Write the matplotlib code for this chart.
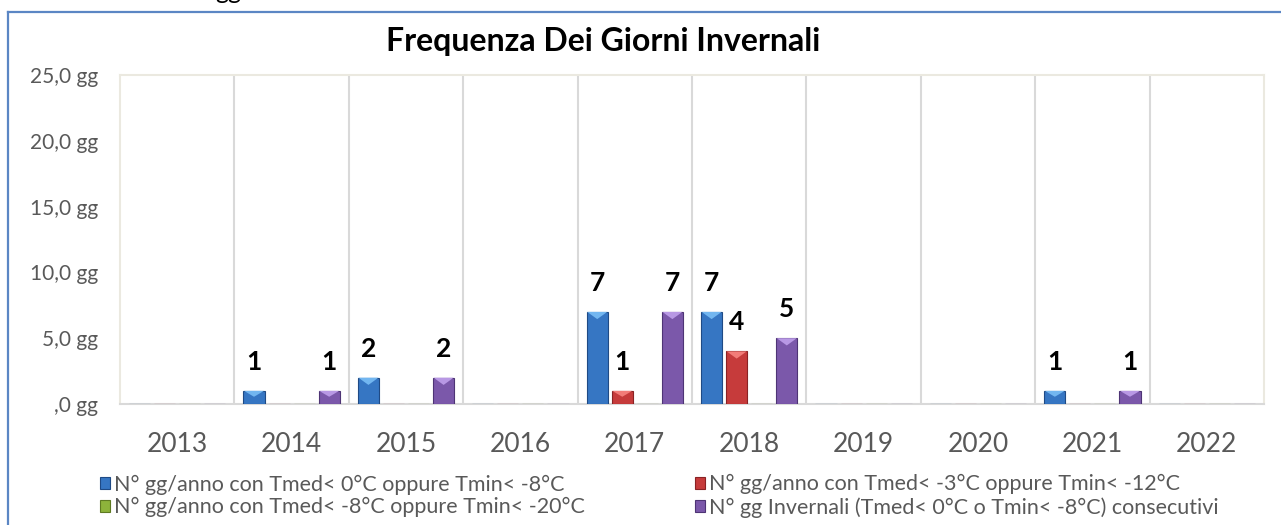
import matplotlib
matplotlib.use("Agg")
import matplotlib.pyplot as plt
from matplotlib.patches import Patch, Polygon
from matplotlib.lines import Line2D

plt.rcParams['font.family'] = ['Lato', 'DejaVu Sans']

# data
anni = ['2013', '2014', '2015', '2016', '2017', '2018', '2019', '2020', '2021', '2022']
gg_0_8 = [0, 1, 2, 0, 7, 7, 0, 0, 1, 0]
gg_3_12 = [0, 0, 0, 0, 1, 4, 0, 0, 0, 0]
gg_8_20 = [0, 0, 0, 0, 0, 0, 0, 0, 0, 0]
gg_consecutivi = [0, 1, 2, 0, 7, 5, 0, 0, 1, 0]
etichette = ['N° gg/anno con Tmed< 0°C oppure Tmin< -8°C',
             'N° gg/anno con Tmed< -3°C oppure Tmin< -12°C',
             'N° gg/anno con Tmed< -8°C oppure Tmin< -20°C',
             'N° gg Invernali (Tmed< 0°C o Tmin< -8°C) consecutivi']
y_ticks = [0, 5, 10, 15, 20, 25]

# colore pieno, bordo scuro, punta chiara
colori = [('#3676C3', '#1F4A85', '#72B6F0'),
          ('#C63B3B', '#8A2224', '#F27C78'),
          ('#8DB33B', '#5E7A22', '#C6E37A'),
          ('#7B58AA', '#4E3475', '#B898E4')]

W, H = 1281, 525
fig = plt.figure(figsize=(W / 100, H / 100), dpi=100)
ax = fig.add_axes([120 / W, 1 - 404 / H, (1264 - 120) / W, (404 - 75) / H])

x = list(range(len(anni)))
passo = 0.219
larg = 0.184
serie = [gg_0_8, gg_3_12, gg_8_20, gg_consecutivi]
for i, vals in enumerate(serie):
    fc, ec, tc = colori[i]
    off = (i - 1.5) * passo
    xs = [xx + off for xx in x]
    bars = ax.bar(xs, vals, width=larg, color=fc, edgecolor=ec, linewidth=0.8, zorder=3)
    for b, v in zip(bars, vals):
        if v <= 0:
            continue
        x0 = b.get_x()
        x1 = x0 + b.get_width()
        d = min(0.55, v * 0.45)
        tri = Polygon([(x0 + 0.004, v), (x1 - 0.004, v), ((x0 + x1) / 2, v - d)],
                      closed=True, facecolor=tc, edgecolor='none', zorder=4)
        ax.add_patch(tri)
        ax.annotate(str(v), (b.get_x() + b.get_width() / 2, v), xytext=(0, 21),
                    textcoords='offset points', ha='center', va='center',
                    fontsize=19, fontweight='bold', color='black', zorder=5)

ax.set_xlim(-0.5, len(anni) - 0.5)
ax.set_ylim(0, 25)
for xx in x[:-1]:
    ax.axvline(xx + 0.5, color='#D9D9D9', lw=1.5, zorder=1)

ax.set_xticks(x)
ax.set_xticklabels(anni, fontsize=19, color='#595959')
ax.set_yticks(y_ticks)
ax.set_yticklabels([('%d,0 gg' % t) if t else ',0 gg' for t in y_ticks],
                   fontsize=15, color='#595959')
ax.tick_params(axis='both', length=0)
ax.tick_params(axis='x', pad=20)
ax.tick_params(axis='y', pad=16)

for s in ['top', 'right', 'left']:
    ax.spines[s].set_color('#EBE9E0')
    ax.spines[s].set_linewidth(1.5)
ax.spines['bottom'].set_color('#D9D9D9')
ax.spines['bottom'].set_linewidth(1.5)

fig.text(603 / W, 1 - 42 / H, 'Frequenza Dei Giorni Invernali', ha='center', va='center',
         fontsize=23, fontweight='bold', color='black')

# testo tagliato in alto, come nell'originale
fig.text(228 / W, 1 + 1 / H, 'gg', ha='center', va='baseline', fontsize=18, color='black')

# cornice blu
fig.add_artist(Line2D([8 / W, 8 / W], [-0.05, 1 - 12 / H], transform=fig.transFigure,
                      color='#5B86C4', lw=1.6))
fig.add_artist(Line2D([8 / W, 1.05], [1 - 12 / H, 1 - 12 / H], transform=fig.transFigure,
                      color='#5B86C4', lw=1.6))

# legenda su due colonne
maniglie = [Patch(facecolor=c[0], edgecolor=c[1], linewidth=0.8) for c in colori]
stile_leg = dict(loc='center left', frameon=False, fontsize=15.5, labelcolor='#595959',
                 handlelength=0.45, handleheight=0.45, handletextpad=0.2,
                 labelspacing=0.12, borderpad=0, borderaxespad=0)
leg1 = fig.legend([maniglie[0], maniglie[2]], [etichette[0], etichette[2]],
                  bbox_to_anchor=(100 / W, 1 - 496 / H), **stile_leg)
leg2 = fig.legend([maniglie[1], maniglie[3]], [etichette[1], etichette[3]],
                  bbox_to_anchor=(695 / W, 1 - 496 / H), **stile_leg)

fig.savefig('out.png', dpi=100)
